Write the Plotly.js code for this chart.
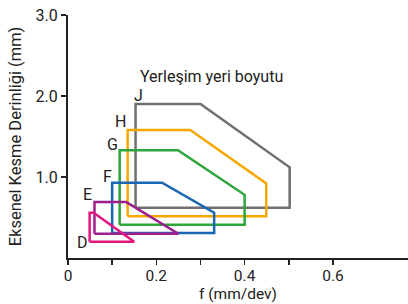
<!DOCTYPE html>
<html><head><meta charset="utf-8">
<script src="https://cdn.plot.ly/plotly-3.0.1.min.js"></script>
<style>html,body{margin:0;padding:0;background:#fff}#c{width:408px;height:304px}</style>
</head><body><div id="c"></div>
<script>
// Region outlines (f in mm/dev, depth in mm)
const sizeNames = ["D","E","F","G","H","J"];
const D_f = [0.049, 0.049, 0.058, 0.150, 0.049];
const D_ap = [0.20, 0.56, 0.56, 0.20, 0.20];
const E_f = [0.060, 0.060, 0.132, 0.250, 0.060];
const E_ap = [0.30, 0.69, 0.69, 0.30, 0.30];
const F_f = [0.100, 0.100, 0.213, 0.331, 0.331, 0.100];
const F_ap = [0.31, 0.93, 0.93, 0.56, 0.31, 0.31];
const G_f = [0.117, 0.117, 0.249, 0.400, 0.400, 0.117];
const G_ap = [0.41, 1.33, 1.33, 0.78, 0.41, 0.41];
const H_f = [0.135, 0.135, 0.277, 0.449, 0.449, 0.135];
const H_ap = [0.515, 1.58, 1.58, 0.92, 0.515, 0.515];
const J_f = [0.153, 0.153, 0.300, 0.502, 0.502, 0.153];
const J_ap = [0.62, 1.90, 1.90, 1.12, 0.62, 0.62];
const colors = ["#e3157e","#9b1f8c","#1a66b2","#2ca53a","#f5a800","#6f6f6f"];
const labelPosF = [0.032, 0.045, 0.089, 0.100, 0.119, 0.160];
const labelPosAp = [0.19, 0.78, 1.01, 1.40, 1.68, 2.01];
const xTickVals = [0, 0.1, 0.2, 0.3, 0.4, 0.5, 0.6];
const xTickText = ["0", "", "0.2", "", "0.4", "", "0.6"];
const yTickVals = [1, 2, 3];
const yTickText = ["1.0", "2.0", "3.0"];
const groupTitle = "Yerleşim yeri boyutu";

const fs = [D_f, E_f, F_f, G_f, H_f, J_f];
const aps = [D_ap, E_ap, F_ap, G_ap, H_ap, J_ap];
const font = "Roboto, 'DejaVu Sans', sans-serif";
const traces = [];
for (let i = sizeNames.length - 1; i >= 0; i--) {
  traces.push({x: fs[i], y: aps[i], mode: "lines", type: "scatter",
    line: {color: colors[i], width: 2.5}, hoverinfo: "skip", showlegend: false});
}
const annotations = sizeNames.map((n, i) => ({x: labelPosF[i], y: labelPosAp[i], text: n,
  showarrow: false, xanchor: "center", yanchor: "middle", font: {family: font, size: 16, color: "#222"}}));
annotations.push({x: 0.324, y: 2.24, text: groupTitle, showarrow: false, xanchor: "center", yanchor: "middle",
  font: {family: font, size: 16, color: "#222"}});

Plotly.newPlot("c", traces, {
  width: 408, height: 304,
  margin: {l: 67.5, r: 0, t: 15, b: 45.5},
  paper_bgcolor: "#fff", plot_bgcolor: "#fff",
  font: {family: font, size: 16, color: "#222"},
  xaxis: {range: [0, 0.77], tickvals: xTickVals, ticktext: xTickText, ticks: "outside", ticklen: 5,
    tickwidth: 1.5, tickcolor: "#222", showline: true, linecolor: "#222", linewidth: 2, showgrid: false,
    ticklabelstandoff: -3,
    zeroline: false, title: {text: "f (mm/dev)", font: {size: 15.5}, standoff: 3}, tickfont: {size: 15.5}},
  yaxis: {range: [0, 3.0], tickvals: yTickVals, ticktext: yTickText, ticks: "outside", ticklen: 5,
    tickwidth: 1.5, tickcolor: "#222", showline: true, linecolor: "#222", linewidth: 2, showgrid: false,
    zeroline: false, title: {text: "Eksenel Kesme Derinliği (mm)", font: {size: 16.5}, standoff: 10}, tickfont: {size: 16}},
  annotations: annotations
}, {staticPlot: true, displayModeBar: false});
</script></body></html>
